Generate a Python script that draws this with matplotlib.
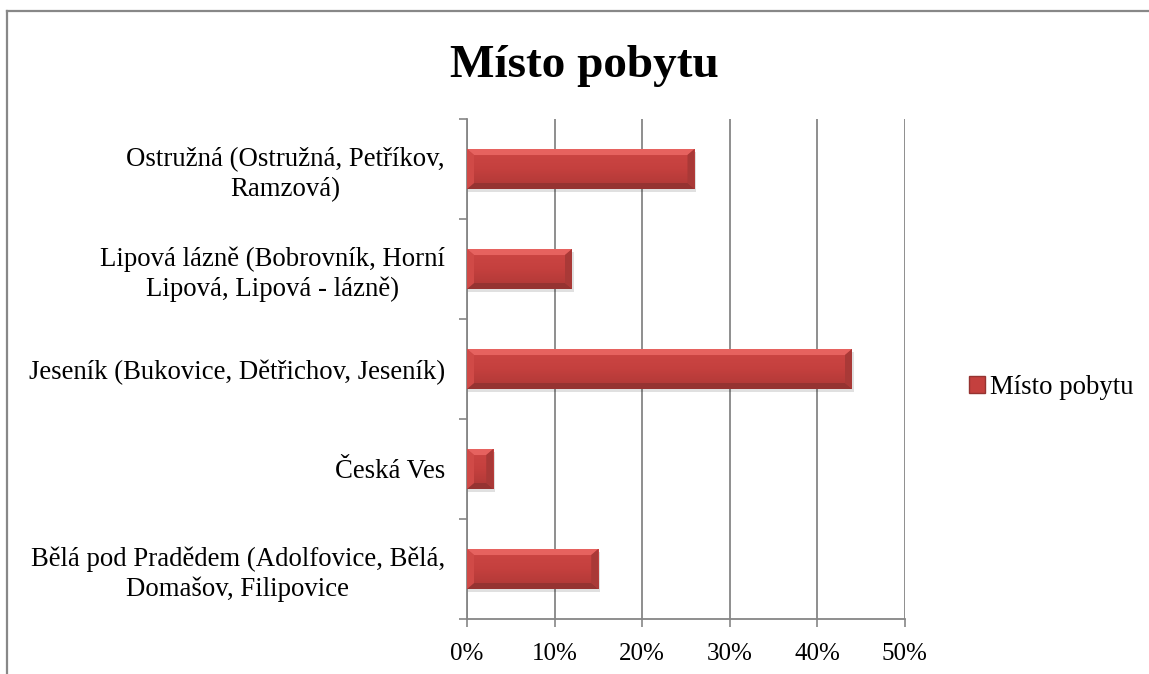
import matplotlib
matplotlib.use("Agg")
import matplotlib.pyplot as plt
import numpy as np
from matplotlib.patches import Polygon, Rectangle
from matplotlib.lines import Line2D
from matplotlib.ticker import PercentFormatter, FixedLocator

categories = [
    "Bělá pod Pradědem (Adolfovice, Bělá,\nDomašov, Filipovice",
    "Česká Ves",
    "Jeseník (Bukovice, Dětřichov, Jeseník)",
    "Lipová lázně (Bobrovník, Horní\nLipová, Lipová - lázně)",
    "Ostružná (Ostružná, Petříkov,\nRamzová)",
]
values = [0.15, 0.03, 0.44, 0.12, 0.26]
series_name = "Místo pobytu"
title = "Místo pobytu"
xticks = [0.0, 0.1, 0.2, 0.3, 0.4, 0.5]

plt.rcParams['font.family'] = ['Liberation Serif', 'DejaVu Serif']

W, H = 1149, 674
fig = plt.figure(figsize=(W / 100, H / 100), dpi=100)
ax = fig.add_axes([467 / W, 1 - 619 / H, (904.5 - 467) / W, (619 - 119) / H])

mid = "#C4403E"
top_c = "#E6625F"
bot_c = "#953331"
end_c = "#A93937"
left_c = "#D04A47"

h = 0.4
dx = 0.008
dy = 0.06
ypos = np.arange(len(categories))

cmap = matplotlib.colors.LinearSegmentedColormap.from_list("g", ["#CD4644", "#C4403E", "#AE3836"])
for y, v in zip(ypos, values):
    # soft shadow
    ax.barh(y - 0.03, v + 0.002, height=h, color="#000000", alpha=0.12, edgecolor="none", zorder=2.5)
    bars = ax.barh(y, v, height=h, color=mid, edgecolor="none", zorder=3)
    bar = bars[0]
    grad = np.linspace(0, 1, 50).reshape(-1, 1)
    im = ax.imshow(grad, extent=[0, v, y - h / 2, y + h / 2], aspect='auto', cmap=cmap,
                   origin='upper', zorder=3.1)
    im.set_clip_path(bar)
    t, b = y + h / 2, y - h / 2
    ax.add_patch(Polygon([(0, t), (v, t), (v - dx, t - dy), (dx, t - dy)], closed=True,
                         facecolor=top_c, edgecolor="none", zorder=4))
    ax.add_patch(Polygon([(0, b), (v, b), (v - dx, b + dy), (dx, b + dy)], closed=True,
                         facecolor=bot_c, edgecolor="none", zorder=4))
    ax.add_patch(Polygon([(v, t), (v, b), (v - dx, b + dy), (v - dx, t - dy)], closed=True,
                         facecolor=end_c, edgecolor="none", zorder=4))
    ax.add_patch(Polygon([(0, t), (0, b), (dx, b + dy), (dx, t - dy)], closed=True,
                         facecolor=left_c, edgecolor="none", zorder=4))

ax.set_xlim(0, 0.5)
ax.set_ylim(-0.5, len(categories) - 0.5)
ax.xaxis.set_major_locator(FixedLocator(xticks))
ax.xaxis.set_major_formatter(PercentFormatter(1.0, decimals=0))
ax.set_yticks(ypos)
ax.set_yticklabels(categories, fontsize=19.3, multialignment='center', linespacing=1.25)
ax.set_yticks(np.arange(-0.5, len(categories), 1.0), minor=True)
ax.tick_params(axis='y', which='major', length=0, pad=16)
ax.tick_params(axis='y', which='minor', length=6, width=1.2, color="#868686", direction='out')
ax.tick_params(axis='x', which='major', length=6, width=1.2, color="#868686", direction='out',
               labelsize=18, pad=11)
ax.grid(axis='x', color="#868686", linewidth=1.3, zorder=0)
ax.set_axisbelow(True)
for s in ['top', 'right']:
    ax.spines[s].set_visible(False)
for s in ['left', 'bottom']:
    ax.spines[s].set_color("#868686")
    ax.spines[s].set_linewidth(1.3)

fig.text(584 / W, 1 - 66 / H, title, fontsize=34, fontweight='bold', ha='center', va='center')

handle = Rectangle((0, 0), 1, 1, facecolor=mid, edgecolor=bot_c, linewidth=1)
fig.legend([handle], [series_name], loc='center left', bbox_to_anchor=(969 / W, 1 - 387 / H),
           frameon=False, fontsize=19.3, handlelength=0.6, handleheight=0.6, handletextpad=0.2,
           borderpad=0, borderaxespad=0)

fig.add_artist(Line2D([7 / W, 7 / W], [0, 1 - 10.5 / H], transform=fig.transFigure,
                      color="#888888", linewidth=1.6))
fig.add_artist(Line2D([7 / W, 1], [1 - 10.5 / H, 1 - 10.5 / H], transform=fig.transFigure,
                      color="#888888", linewidth=1.6))

fig.savefig("out.png", dpi=100)
